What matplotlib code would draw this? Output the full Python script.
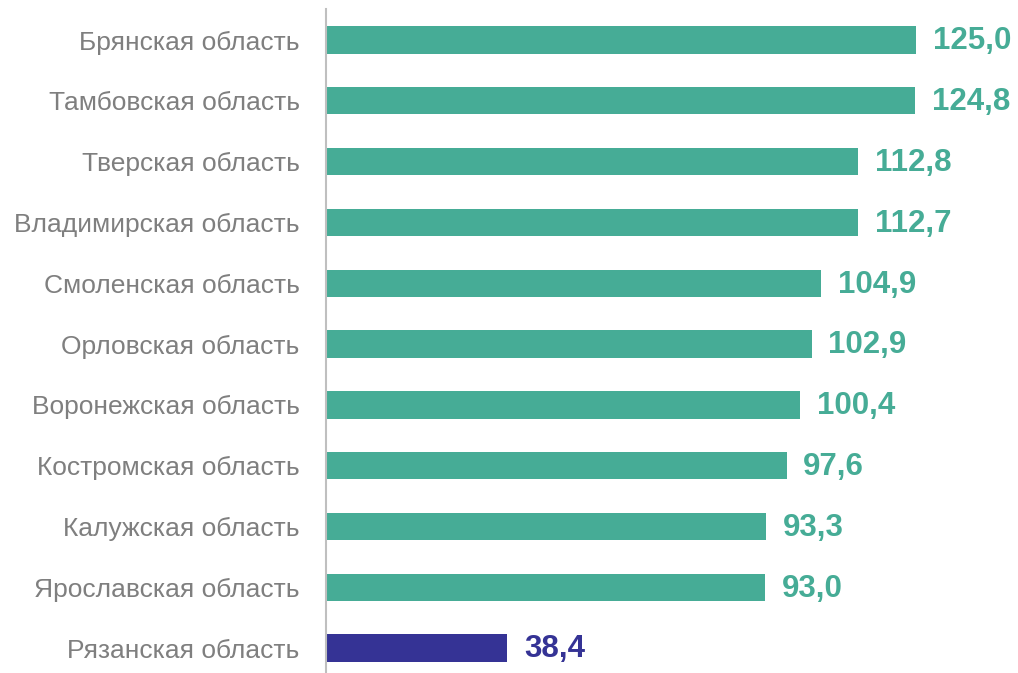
import matplotlib
matplotlib.use("Agg")
import matplotlib.pyplot as plt

regions = ["Брянская область", "Тамбовская область", "Тверская область",
           "Владимирская область", "Смоленская область", "Орловская область",
           "Воронежская область", "Костромская область", "Калужская область",
           "Ярославская область", "Рязанская область"]
values = [125.0, 124.8, 112.8, 112.7, 104.9, 102.9, 100.4, 97.6, 93.3, 93.0, 38.4]
highlight = "Рязанская область"

teal = "#46AC96"
navy = "#353395"

plt.rcParams['font.family'] = ['Liberation Sans', 'DejaVu Sans']

W, H = 1018, 673
fig = plt.figure(figsize=(W / 100, H / 100), dpi=100)
ax = fig.add_axes([326 / W, 0, 1 - 326 / W, (H - 9) / H])

ypos = list(range(len(regions)))
colors = [navy if r == highlight else teal for r in regions]
ax.barh(ypos, values, height=0.45, color=colors)

ax.set_xlim(0, 125 * (W - 326) / (916 - 326))
ax.set_ylim(len(regions) - 1 + 0.41, -0.51)

for y, v, c in zip(ypos, values, colors):
    ax.annotate(f"{v:.1f}".replace(".", ","), xy=(v, y), xytext=(12, -1),
                textcoords="offset points", va="center", ha="left",
                fontsize=22.5, fontweight="bold", color=c)

ax.set_yticks(ypos)
ax.set_yticklabels(regions, fontsize=19, color="#7F7F7F")
ax.tick_params(axis="y", length=0, pad=19)
ax.set_xticks([])
for s in ["top", "right", "bottom"]:
    ax.spines[s].set_visible(False)
ax.spines["left"].set_color("#BFBFBF")
ax.spines["left"].set_linewidth(1.5)

fig.savefig("out.png", dpi=100)
